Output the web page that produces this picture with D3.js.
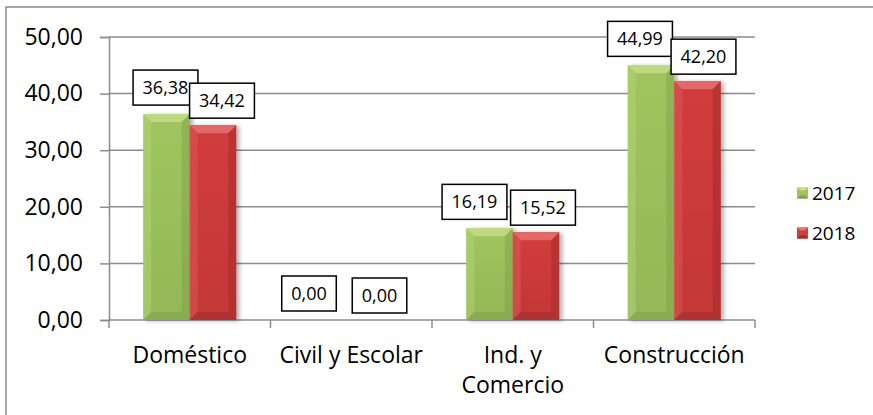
<!DOCTYPE html>
<html>
<head>
<meta charset="utf-8">
<script src="https://cdn.jsdelivr.net/npm/d3@7"></script>
<style>
  body { margin: 0; background: #fff; }
  svg { display: block; font-family: "Open Sans", sans-serif; }
</style>
</head>
<body>
<svg id="chart" width="873" height="415"></svg>
<script>
// data
var categories = ["Doméstico", "Civil y Escolar", "Ind. y|Comercio", "Construcción"];
var seriesNames = ["2017", "2018"];
var values2017 = [36.38, 0.00, 16.19, 44.99];
var values2018 = [34.42, 0.00, 15.52, 42.20];
var yTicks = [0, 10, 20, 30, 40, 50];

var seriesValues = [values2017, values2018];
var colors = [
	{ top: "#c4de8c", mid: "#a0c55e", dark: "#7f9f45", side: "#b3d377" },
	{ top: "#e67474", mid: "#d13c3c", dark: "#9e2a2a", side: "#dc5a5a" }
];

var svg = d3.select("#chart");
var fmt = d3.formatLocale({ decimal: ",", thousands: "." }).format(".2f");

var plot = { left: 109, right: 755, top: 37, bottom: 320 };

var x = d3.scaleBand().domain(categories).range([plot.left, plot.right]);
var groupW = 93;
var x1 = d3.scaleBand().domain(seriesNames).range([0, groupW]);
var y = d3.scaleLinear().domain([0, 50]).range([plot.bottom, plot.top]);

// outer frame (only top and left edges show)
svg.append("rect")
	.attr("x", 6).attr("y", 7)
	.attr("width", 900).attr("height", 450)
	.attr("fill", "none").attr("stroke", "#8a8a8a").attr("stroke-width", 1.5);

var defs = svg.append("defs");
var shadow = defs.append("filter").attr("id", "shadow")
	.attr("x", "-20%").attr("y", "-10%").attr("width", "150%").attr("height", "130%");
shadow.append("feDropShadow")
	.attr("dx", 3).attr("dy", 1).attr("stdDeviation", 2)
	.attr("flood-color", "#000").attr("flood-opacity", 0.3);

colors.forEach(function(c, i) {
	var g = defs.append("linearGradient").attr("id", "grad" + i)
		.attr("x1", 0).attr("y1", 0).attr("x2", 0).attr("y2", 1);
	g.append("stop").attr("offset", "0%").attr("stop-color", c.mid);
	g.append("stop").attr("offset", "100%").attr("stop-color", d3.color(c.mid).darker(0.2));
});

// gridlines
svg.append("g").selectAll("line")
	.data(yTicks.filter(function(t) { return t > 0; }))
	.join("line")
	.attr("x1", plot.left).attr("x2", plot.right)
	.attr("y1", function(d) { return y(d); })
	.attr("y2", function(d) { return y(d); })
	.attr("stroke", "#8c8c8c").attr("stroke-width", 1.5);

// y axis
var yAxis = svg.append("g")
	.attr("transform", "translate(" + plot.left + ",0)")
	.call(d3.axisLeft(y).tickValues(yTicks).tickSize(9).tickPadding(17).tickFormat(fmt));
yAxis.select(".domain").attr("stroke", "#8c8c8c").attr("stroke-width", 1.5);
yAxis.selectAll(".tick line").attr("stroke", "#8c8c8c").attr("stroke-width", 1.5);
yAxis.selectAll(".tick text").attr("font-size", 23).attr("fill", "#000")
	.attr("font-family", "Open Sans");

// x axis line + boundary ticks
svg.append("line")
	.attr("x1", plot.left).attr("x2", plot.right)
	.attr("y1", plot.bottom).attr("y2", plot.bottom)
	.attr("stroke", "#8c8c8c").attr("stroke-width", 1.5);
var bounds = categories.map(function(c) { return x(c); }).concat([plot.right]);
svg.append("g").selectAll("line")
	.data(bounds)
	.join("line")
	.attr("x1", function(d) { return d; }).attr("x2", function(d) { return d; })
	.attr("y1", plot.bottom).attr("y2", plot.bottom + 8)
	.attr("stroke", "#8c8c8c").attr("stroke-width", 1.5);

// category labels
var catText = svg.append("g").selectAll("text")
	.data(categories)
	.join("text")
	.attr("text-anchor", "middle")
	.attr("font-size", 23)
	.attr("fill", "#000");
catText.each(function(d) {
	var lines = d.split("|");
	var t = d3.select(this);
	lines.forEach(function(l, i) {
		t.append("tspan")
			.attr("x", x(d) + x.bandwidth() / 2)
			.attr("y", 363 + i * 30)
			.text(l);
	});
});

// bars with a bevel look
function drawBar(g, bx, by, w, h, c, i) {
	if (h <= 0) return;
	var b = Math.min(8, h / 2, w / 2);
	var bar = g.append("g").attr("filter", "url(#shadow)");
	bar.append("rect").attr("x", bx).attr("y", by).attr("width", w).attr("height", h)
		.attr("fill", "url(#grad" + i + ")");
	// top bevel
	bar.append("polygon")
		.attr("points", [[bx, by], [bx + w, by], [bx + w - b, by + b], [bx + b, by + b]].join(" "))
		.attr("fill", c.top).attr("opacity", 0.8);
	// left bevel
	bar.append("polygon")
		.attr("points", [[bx, by], [bx + b, by + b], [bx + b, by + h - b], [bx, by + h]].join(" "))
		.attr("fill", c.side).attr("opacity", 0.5);
	// right bevel
	bar.append("polygon")
		.attr("points", [[bx + w, by], [bx + w, by + h], [bx + w - b, by + h - b], [bx + w - b, by + b]].join(" "))
		.attr("fill", c.dark).attr("opacity", 0.45);
	// bottom bevel
	bar.append("polygon")
		.attr("points", [[bx, by + h], [bx + b, by + h - b], [bx + w - b, by + h - b], [bx + w, by + h]].join(" "))
		.attr("fill", c.dark).attr("opacity", 0.5);
}

var barsG = svg.append("g");
categories.forEach(function(cat, ci) {
	var gx = x(cat) + (x.bandwidth() - groupW) / 2;
	seriesNames.forEach(function(s, si) {
		var v = seriesValues[si][ci];
		drawBar(barsG, gx + x1(s), y(v), x1.bandwidth(), y(0) - y(v), colors[si], si);
	});
});

// data labels in boxes, nudged sideways like the original
var labelShift = [[-1, 9], [-19, 5], [-15, 7], [-11, 6]];
var labelsG = svg.append("g");
categories.forEach(function(cat, ci) {
	var gx = x(cat) + (x.bandwidth() - groupW) / 2;
	seriesNames.forEach(function(s, si) {
		var v = seriesValues[si][ci];
		var cx = gx + x1(s) + x1.bandwidth() / 2 + labelShift[ci][si];
		var bottom = y(v) - (si === 0 ? 9 : 7);
		var lg = labelsG.append("g");
		var rect = lg.append("rect").attr("fill", "#fff").attr("stroke", "#000").attr("stroke-width", 1.5);
		var txt = lg.append("text")
			.attr("x", cx).attr("y", bottom - 17.5)
			.attr("dy", "0.35em")
			.attr("text-anchor", "middle")
			.attr("font-size", 18)
			.text(fmt(v));
		var w = txt.node().getComputedTextLength() + 19;
		rect.attr("x", cx - w / 2).attr("y", bottom - 35).attr("width", w).attr("height", 35);
	});
});

// legend
var legend = svg.append("g");
seriesNames.forEach(function(s, i) {
	var ly = 193 + i * 40;
	var c = colors[i];
	legend.append("rect").attr("x", 797).attr("y", ly - 5.5).attr("width", 11).attr("height", 11)
		.attr("fill", c.mid);
	legend.append("polygon")
		.attr("points", [[797, ly - 5.5], [808, ly - 5.5], [805, ly - 2.5], [800, ly - 2.5]].join(" "))
		.attr("fill", c.top);
	legend.append("polygon")
		.attr("points", [[797, ly + 5.5], [800, ly + 2.5], [805, ly + 2.5], [808, ly + 5.5]].join(" "))
		.attr("fill", c.dark);
	legend.append("text").attr("x", 812).attr("y", ly).attr("dy", "0.35em")
		.attr("font-size", 19).text(s);
});
</script>
</body>
</html>
